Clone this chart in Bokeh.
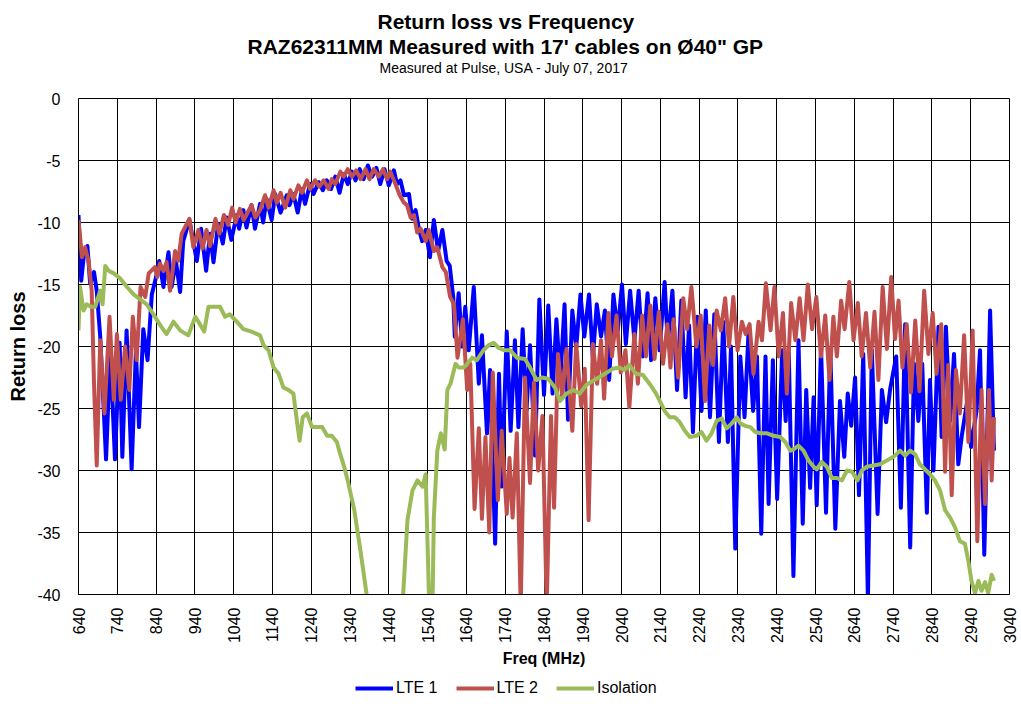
import math
from bokeh.plotting import figure
from bokeh.layouts import column
from bokeh.models import Range1d, FixedTicker, Title, Legend, LegendItem, ColumnDataSource
from bokeh.embed import file_html
from bokeh.resources import INLINE

# ---------------- data ----------------
x_ticks = [640, 740, 840, 940, 1040, 1140, 1240, 1340, 1440, 1540, 1640, 1740, 1840,
           1940, 2040, 2140, 2240, 2340, 2440, 2540, 2640, 2740, 2840, 2940, 3040]
y_ticks = [0, -5, -10, -15, -20, -25, -30, -35, -40]
y_tick_labels = ["0", "-5", "-10", "-15", "-20", "-25", "-30", "-35", "-40"]

lte1_freq = [640, 647, 655, 663, 670, 680, 687, 696, 704, 711, 722, 734, 746, 753, 764, 777, 788, 796,
             807, 818, 829, 840, 848, 859, 872, 880, 891, 902, 910, 926, 945, 956, 969, 979, 988, 1000,
             1012, 1022, 1034, 1048, 1054, 1065, 1073, 1086, 1095, 1108, 1116, 1125, 1138, 1147, 1161,
             1177, 1184, 1194, 1205, 1216, 1224, 1237, 1246, 1259, 1270, 1280, 1291, 1302, 1313, 1324,
             1334, 1345, 1354, 1365, 1375, 1386, 1397, 1408, 1418, 1429, 1440, 1453, 1461, 1470, 1479,
             1492, 1500, 1509, 1518, 1526, 1535, 1546, 1556, 1567, 1578, 1589, 1597, 1606, 1610, 1620,
             1629, 1637, 1646, 1659, 1672, 1680, 1693, 1701, 1714, 1724, 1731, 1744, 1754, 1765, 1774,
             1785, 1795, 1804, 1817, 1828, 1840, 1851, 1862, 1872, 1882, 1893, 1902, 1913, 1923, 1934,
             1944, 1956, 1966, 1976, 1987, 1997, 2008, 2019, 2030, 2041, 2051, 2062, 2073, 2084, 2095,
             2107, 2116, 2127, 2138, 2151, 2159, 2171, 2183, 2194, 2205, 2214, 2224, 2235, 2246, 2257,
             2268, 2279, 2291, 2302, 2314, 2322, 2333, 2346, 2357, 2367, 2379, 2389, 2400, 2411, 2419,
             2430, 2441, 2454, 2463, 2471, 2483, 2496, 2507, 2516, 2526, 2535, 2543, 2554, 2567, 2578,
             2591, 2603, 2614, 2623, 2632, 2642, 2652, 2663, 2675, 2685, 2700, 2711, 2722, 2732, 2748,
             2760, 2771, 2784, 2794, 2805, 2815, 2827, 2835, 2844, 2857, 2865, 2876, 2887, 2897, 2908,
             2917, 2930, 2941, 2955, 2964, 2975, 2990, 3000]
lte1_rl = [-9.4, -14.7, -12.3, -11.9, -14.9, -14.0, -15.5, -19.2, -24.4, -29.1, -20.3, -29.1, -19.7, -28.9,
           -18.7, -29.9, -20.3, -26.5, -18.6, -21.1, -15.8, -14.4, -13.1, -15.2, -12.4, -15.2, -13.1, -15.6,
           -11.5, -9.8, -13.1, -10.5, -13.9, -10.9, -13.2, -10.1, -11.7, -9.6, -11.4, -9.4, -10.5, -9.0,
           -10.4, -8.6, -10.5, -8.5, -10.0, -8.1, -9.8, -7.7, -9.2, -7.8, -8.6, -7.7, -9.2, -7.3, -8.5, -6.9,
           -7.7, -6.75, -7.4, -6.6, -7.3, -6.3, -7.6, -6.1, -6.9, -5.9, -6.6, -5.7, -6.5, -5.4, -6.3, -5.6,
           -6.9, -5.7, -7.0, -5.8, -6.9, -6.6, -7.8, -7.7, -9.7, -9.0, -10.6, -11.5, -10.6, -12.8, -9.8,
           -12.3, -10.6, -13.1, -13.5, -16.0, -19.2, -15.7, -20.0, -16.8, -20.3, -15.2, -23.0, -19.1, -27.0,
           -21.9, -35.9, -22.2, -31.3, -18.8, -26.8, -19.5, -26.5, -18.6, -25.2, -19.9, -28.8, -16.2, -23.9,
           -16.7, -23.8, -17.8, -22.7, -16.6, -25.9, -17.1, -20.1, -15.8, -19.2, -15.8, -20.9, -16.6, -19.2,
           -17.1, -22.7, -15.8, -18.8, -15.0, -19.8, -15.5, -19.5, -15.5, -20.8, -15.7, -21.1, -16.1, -20.3,
           -14.8, -19.8, -15.5, -23.5, -16.3, -24.1, -18.3, -26.9, -17.6, -25.2, -17.1, -25.7, -17.4, -27.7,
           -18.0, -27.7, -20.0, -36.3, -20.8, -25.7, -19.0, -25.2, -20.8, -35.1, -20.8, -32.7, -21.1, -32.3,
           -20.3, -26.0, -20.5, -38.5, -19.5, -34.3, -23.5, -31.4, -24.1, -32.8, -20.0, -33.4, -20.3, -34.7,
           -24.4, -28.9, -23.8, -26.4, -22.5, -32.0, -20.6, -40.5, -20.3, -33.5, -23.5, -26.1, -23.5, -20.8,
           -33.0, -18.2, -36.2, -21.4, -26.0, -21.4, -33.4, -22.7, -30.0, -18.4, -27.3, -18.4, -26.0, -20.6,
           -29.5, -27.2, -24.6, -28.1, -25.2, -20.3, -36.8, -17.1, -28.4]

lte2_freq = [640, 649, 657, 666, 674, 680, 687, 696, 707, 720, 731, 739, 749, 760, 771, 780, 790, 800, 812,
             821, 837, 843, 850, 859, 867, 876, 889, 897, 906, 926, 936, 949, 960, 970, 979, 993, 1003,
             1015, 1026, 1036, 1045, 1056, 1066, 1086, 1096, 1108, 1121, 1130, 1143, 1151, 1161, 1173,
             1186, 1194, 1207, 1216, 1229, 1237, 1250, 1261, 1272, 1285, 1293, 1302, 1315, 1324, 1334,
             1345, 1356, 1367, 1380, 1390, 1401, 1414, 1425, 1436, 1444, 1457, 1468, 1479, 1487, 1496,
             1505, 1513, 1522, 1535, 1543, 1556, 1565, 1578, 1587, 1598, 1608, 1617, 1631, 1642, 1650,
             1661, 1672, 1680, 1689, 1699, 1708, 1721, 1731, 1744, 1751, 1759, 1770, 1780, 1791, 1804,
             1814, 1825, 1836, 1847, 1858, 1866, 1876, 1887, 1898, 1913, 1923, 1936, 1945, 1955, 1966,
             1977, 1987, 1995, 2006, 2015, 2027, 2038, 2050, 2060, 2073, 2082, 2093, 2103, 2114, 2125,
             2136, 2147, 2158, 2166, 2174, 2186, 2199, 2209, 2220, 2233, 2244, 2255, 2266, 2276, 2285,
             2296, 2307, 2317, 2328, 2339, 2350, 2360, 2370, 2380, 2393, 2402, 2412, 2424, 2434, 2445,
             2456, 2466, 2477, 2488, 2499, 2509, 2520, 2531, 2542, 2554, 2565, 2576, 2586, 2595, 2606,
             2615, 2627, 2638, 2649, 2659, 2670, 2681, 2692, 2702, 2713, 2724, 2735, 2745, 2754, 2764,
             2775, 2786, 2797, 2808, 2820, 2831, 2842, 2852, 2864, 2874, 2882, 2891, 2902, 2912, 2923,
             2934, 2945, 2957, 2968, 2977, 2987, 2994, 3000]
lte2_rl = [-9.8, -12.8, -12.0, -13.1, -15.5, -23.0, -29.6, -19.5, -25.4, -17.6, -24.3, -19.0, -24.3, -20.0,
           -23.5, -17.6, -21.1, -15.2, -16.0, -14.1, -13.6, -14.4, -13.3, -13.9, -13.2, -15.5, -12.3, -13.1,
           -10.9, -9.7, -12.0, -10.6, -12.1, -10.6, -11.9, -9.7, -10.9, -9.4, -10.2, -8.8, -10.0, -8.9, -9.8,
           -8.6, -9.6, -9.0, -7.8, -8.8, -7.4, -8.4, -7.6, -8.8, -7.4, -8.1, -7.0, -7.6, -6.6, -7.3, -6.6,
           -7.1, -6.6, -7.3, -6.5, -6.9, -5.9, -6.3, -5.7, -6.3, -5.8, -6.5, -5.7, -6.5, -5.7, -6.3, -5.7,
           -6.5, -5.9, -6.9, -7.8, -8.4, -8.6, -9.6, -9.4, -10.8, -10.5, -11.5, -10.6, -12.3, -12.0, -13.6,
           -14.0, -16.0, -16.6, -20.9, -17.8, -23.5, -21.4, -33.1, -26.6, -33.9, -27.3, -35.0, -22.1, -32.4,
           -26.8, -33.5, -29.0, -33.8, -27.0, -41.0, -22.5, -31.0, -22.9, -30.0, -25.6, -41.0, -25.6, -33.0,
           -20.6, -24.1, -20.2, -26.8, -19.8, -24.8, -21.8, -34.0, -19.8, -23.0, -19.5, -24.2, -17.3, -20.8,
           -17.5, -22.1, -20.3, -24.9, -19.0, -23.0, -17.5, -20.8, -16.7, -21.0, -17.2, -21.4, -18.2, -21.7,
           -17.8, -22.5, -16.1, -18.6, -15.2, -20.0, -17.5, -24.4, -18.3, -21.5, -17.1, -18.7, -16.1, -20.0,
           -16.0, -20.3, -18.0, -19.0, -18.2, -22.2, -18.0, -19.5, -14.9, -18.7, -15.2, -20.8, -17.3, -23.8,
           -16.5, -19.5, -16.1, -19.5, -15.0, -18.6, -16.0, -20.8, -17.5, -22.7, -17.6, -20.8, -16.3, -18.6,
           -14.8, -19.5, -16.5, -20.8, -17.3, -21.7, -17.2, -22.7, -15.2, -20.2, -14.4, -19.4, -16.3, -21.7,
           -18.2, -23.7, -17.9, -23.6, -15.5, -20.6, -17.3, -22.2, -18.2, -30.1, -21.5, -32.0, -21.9, -25.4,
           -19.1, -27.7, -18.7, -35.7, -23.5, -32.7, -23.5, -30.8, -25.7]

iso_freq = [640, 644, 653, 661, 672, 683, 696, 702, 709, 718, 731, 747, 765, 782, 799, 816, 833, 851, 867,
            885, 902, 923, 941, 953, 964, 975, 988, 1005, 1018, 1030, 1048, 1065, 1086, 1108, 1117, 1130,
            1143, 1156, 1168, 1181, 1194, 1203, 1210, 1218, 1229, 1242, 1255, 1268, 1281, 1293, 1306, 1315,
            1324, 1334, 1351, 1367, 1385, 1400, 1465, 1476, 1488, 1501, 1514, 1527, 1535, 1545, 1552, 1556,
            1565, 1574, 1584, 1591, 1599, 1612, 1620, 1633, 1642, 1655, 1667, 1684, 1697, 1710, 1723, 1736,
            1753, 1770, 1791, 1804, 1821, 1834, 1851, 1868, 1881, 1898, 1915, 1932, 1949, 1970, 1992, 2017,
            2034, 2047, 2060, 2077, 2095, 2112, 2129, 2142, 2151, 2164, 2177, 2190, 2203, 2216, 2233, 2246,
            2259, 2272, 2285, 2298, 2311, 2324, 2337, 2346, 2359, 2372, 2385, 2398, 2415, 2432, 2449, 2462,
            2475, 2483, 2496, 2509, 2522, 2535, 2543, 2556, 2569, 2582, 2595, 2608, 2621, 2634, 2648, 2659,
            2672, 2689, 2706, 2724, 2741, 2758, 2771, 2784, 2797, 2809, 2822, 2835, 2848, 2861, 2874, 2887,
            2900, 2912, 2925, 2934, 2942, 2951, 2960, 2968, 2977, 2985, 2994, 3000]
iso_rl = [-18.7, -15.2, -17.1, -16.6, -16.8, -16.8, -15.5, -16.6, -13.5, -13.9, -14.1, -14.5, -15.2, -15.8,
          -16.2, -16.6, -17.4, -18.3, -19.0, -18.0, -18.7, -19.1, -17.6, -18.2, -18.8, -16.8, -16.8, -16.8,
          -17.6, -17.4, -18.0, -18.6, -18.8, -19.1, -19.9, -20.3, -21.7, -22.2, -23.3, -23.5, -23.8, -26.0,
          -27.6, -25.7, -25.4, -26.5, -26.5, -26.5, -27.2, -27.2, -27.7, -28.7, -29.6, -30.8, -33.2, -36.5,
          -40.5, -45.0, -45.0, -40.5, -34.0, -31.6, -30.8, -31.3, -30.3, -42.0, -42.0, -33.8, -28.4, -27.0,
          -28.3, -23.5, -23.0, -21.4, -21.7, -21.7, -21.4, -20.9, -21.1, -20.3, -19.9, -19.7, -20.1, -20.3,
          -20.3, -20.9, -21.0, -21.7, -22.7, -22.5, -22.6, -23.3, -24.4, -23.8, -23.5, -23.8, -23.1, -22.7,
          -22.3, -21.8, -21.7, -21.9, -21.5, -22.2, -22.3, -23.0, -23.8, -24.6, -25.2, -25.7, -25.7, -26.1,
          -26.8, -27.3, -27.2, -26.9, -27.6, -27.0, -26.0, -25.8, -26.6, -26.2, -25.7, -26.2, -26.4, -26.5,
          -26.9, -27.0, -27.0, -27.2, -27.3, -27.7, -28.4, -28.3, -28.0, -28.4, -29.2, -29.7, -29.9, -29.3,
          -29.7, -30.6, -30.6, -30.8, -30.0, -30.1, -30.8, -30.0, -29.7, -29.6, -29.5, -29.2, -28.9, -28.4,
          -28.8, -28.4, -28.7, -29.5, -29.9, -30.3, -30.8, -31.6, -33.2, -33.8, -34.6, -35.7, -35.9, -37.3,
          -38.9, -39.9, -38.9, -39.7, -39.0, -39.9, -38.4, -38.9]

series_names = ["LTE 1", "LTE 2", "Isolation"]
series_colors = ["#0000FF", "#C0504D", "#9BBB59"]

title_lines = ["Return loss vs Frequency",
               "RAZ62311MM Measured with 17' cables on Ø40\" GP",
               "Measured at Pulse, USA -  July 07, 2017"]

# ---------------- main chart ----------------
FONT = "Liberation Sans"

p = figure(width=1020, height=672, output_backend="svg", toolbar_location=None,
           x_range=Range1d(640, 3040), y_range=Range1d(-40, 0),
           min_border_left=78, min_border_right=11, min_border_top=98, min_border_bottom=78)
p.background_fill_color = "white"
p.border_fill_color = "white"
p.outline_line_color = "black"
p.outline_line_width = 1

for ax in (p.xaxis[0], p.yaxis[0]):
    ax.axis_line_color = "black"
    ax.major_tick_in = 0
    ax.major_tick_out = 0
    ax.minor_tick_in = 0
    ax.minor_tick_out = 0
    ax.major_label_text_font = FONT
    ax.major_label_text_font_size = "16px"
    ax.major_label_text_color = "black"
    ax.axis_label_text_font = FONT
    ax.axis_label_text_font_style = "bold"
    ax.axis_label_text_color = "black"

p.xaxis.ticker = FixedTicker(ticks=x_ticks)
p.xaxis.major_label_orientation = math.pi / 2
p.xaxis.major_label_standoff = 13
p.xaxis.axis_label = "Freq (MHz)"
p.xaxis.axis_label_text_font_size = "16px"
p.xaxis.axis_label_standoff = 4

p.yaxis.ticker = FixedTicker(ticks=y_ticks)
p.yaxis.major_label_overrides = {t: s for t, s in zip(y_ticks, y_tick_labels)}
p.yaxis.major_label_standoff = 18
p.yaxis.axis_label = "Return loss"
p.yaxis.axis_label_text_font_size = "20px"
p.yaxis.axis_label_standoff = 5

p.xgrid.ticker = FixedTicker(ticks=x_ticks)
p.ygrid.ticker = FixedTicker(ticks=y_ticks)
for g in (p.xgrid[0], p.ygrid[0]):
    g.grid_line_color = "black"
    g.grid_line_width = 1
    g.grid_line_alpha = 1

series = [(lte1_freq, lte1_rl), (lte2_freq, lte2_rl), (iso_freq, iso_rl)]
sources = []
for (fr, rl), col in zip(series, series_colors):
    src = ColumnDataSource(dict(f=fr, rl=rl))
    sources.append(src)
    p.line("f", "rl", source=src, line_color=col, line_width=4, line_join="round")

# titles: p.title is outermost; p.above entries stack outward from the frame
p.title.text = title_lines[0]
p.title.align = "left"
p.title.offset = 299
p.title.text_font = FONT
p.title.text_font_size = "21px"
p.title.text_font_style = "bold"
p.title.text_color = "black"
p.title.standoff = 0
p.add_layout(Title(text=" ", text_font_size="1px", standoff=20), "above")
p.add_layout(Title(text=title_lines[2], align="left", offset=301, text_font=FONT,
                   text_font_size="14px", text_font_style="normal", text_color="black",
                   standoff=0), "above")
p.add_layout(Title(text=title_lines[1], align="left", offset=169, text_font=FONT,
                   text_font_size="21px", text_font_style="bold", text_color="black",
                   standoff=0), "above")

# ---------------- legend strip (same series, drawn out of its view) ----------------
lg = figure(width=1020, height=34, output_backend="svg", toolbar_location=None,
            x_range=Range1d(0, 1), y_range=Range1d(0, 1),
            x_axis_type=None, y_axis_type=None, min_border=0)
lg.outline_line_color = None
lg.grid.visible = False
lg.background_fill_color = "white"
lg.border_fill_color = "white"
items = []
for name, col, src in zip(series_names, series_colors, sources):
    r = lg.line("f", "rl", source=src, line_color=col, line_width=4)
    items.append(LegendItem(label=name, renderers=[r]))
legend = Legend(items=items, location=(277, 8), orientation="horizontal",
                glyph_width=38, glyph_height=20, label_standoff=3, spacing=18,
                padding=0, margin=0, border_line_alpha=0, background_fill_alpha=0,
                label_text_font=FONT, label_text_font_size="16px", label_text_color="black")
lg.add_layout(legend)

layout = column(p, lg, spacing=0)
open("out.html", "w").write(file_html(layout, INLINE))
